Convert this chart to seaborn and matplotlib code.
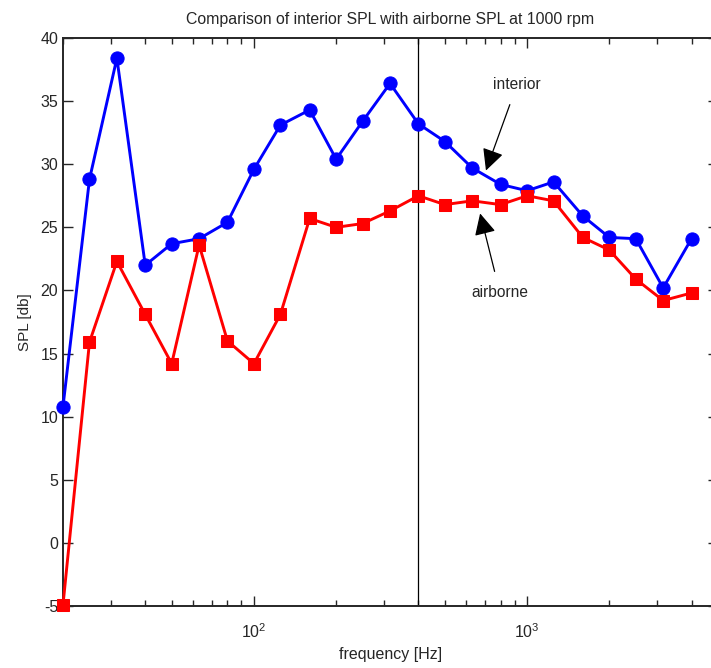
import matplotlib
matplotlib.use("Agg")
import matplotlib.pyplot as plt
import matplotlib.ticker as mticker
import seaborn as sns
import pandas as pd

freq = [20, 25, 31.5, 40, 50, 63, 80, 100, 125, 160, 200, 250, 315, 400,
        500, 630, 800, 1000, 1250, 1600, 2000, 2500, 3150, 4000]
interior = [10.8, 28.8, 38.4, 22.0, 23.7, 24.1, 25.4, 29.6, 33.1, 34.3, 30.4, 33.4, 36.4, 33.2,
            31.8, 29.7, 28.4, 27.9, 28.6, 25.9, 24.2, 24.1, 20.2, 24.1]
airborne = [-4.9, 15.9, 22.3, 18.1, 14.2, 23.6, 16.0, 14.2, 18.1, 25.7, 25.0, 25.3, 26.3, 27.5,
            26.8, 27.1, 26.8, 27.5, 27.1, 24.2, 23.2, 20.9, 19.2, 19.8]
vline_freq = 400

sns.set_style("ticks")
plt.rcParams['font.family'] = ['Liberation Sans', 'DejaVu Sans']
plt.rcParams['axes.unicode_minus'] = False

df_i = pd.DataFrame({"freq": freq, "spl": interior})
df_a = pd.DataFrame({"freq": freq, "spl": airborne})

fig = plt.figure(figsize=(7.11, 6.68), dpi=100)
ax = fig.add_axes([63 / 711, 62 / 668, 655 / 711, 568 / 668])

sns.lineplot(data=df_i, x="freq", y="spl", ax=ax, color="#0000ff", marker="o",
             markersize=9.5, markeredgecolor="#0000ff", linewidth=2.1, clip_on=False, zorder=3)
sns.lineplot(data=df_a, x="freq", y="spl", ax=ax, color="#ff0000", marker="s",
             markersize=9, markeredgecolor="#ff0000", linewidth=2.1, clip_on=False, zorder=4)

ax.axvline(vline_freq, color="black", linewidth=0.9)

ax.set_xscale("log")
ax.set_xlim(20, 5000)
ax.set_ylim(-5, 40)
ax.set_yticks(range(-5, 41, 5))
ax.xaxis.set_major_locator(mticker.FixedLocator([100, 1000]))
ax.xaxis.set_minor_locator(mticker.LogLocator(base=10, subs=range(2, 10), numticks=20))
ax.xaxis.set_minor_formatter(mticker.NullFormatter())

ax.tick_params(which="both", direction="in", top=True, right=True, labelsize=11.5, width=1)
ax.tick_params(which="major", length=7)
ax.tick_params(which="minor", length=4)
ax.tick_params(axis="x", which="major", pad=12)
for s in ax.spines.values():
    s.set_linewidth(1.4)
    s.set_visible(True)

ax.set_title("Comparison of interior SPL with airborne SPL at 1000 rpm", fontsize=11.4, pad=10)
ax.set_xlabel("frequency [Hz]", fontsize=11.5, labelpad=4)
ax.set_ylabel("SPL [db]", fontsize=11, labelpad=6)

ax.annotate("interior", xy=(707, 29.5), xytext=(919, 36.3), ha="center", va="center", fontsize=11.2,
            arrowprops=dict(arrowstyle="-|>,head_length=0.6,head_width=0.3", color="black",
                            lw=0.9, mutation_scale=22, shrinkA=7, shrinkB=0))
ax.annotate("airborne", xy=(673, 26.1), xytext=(796, 19.8), ha="center", va="center", fontsize=11.2,
            arrowprops=dict(arrowstyle="-|>,head_length=0.6,head_width=0.3", color="black",
                            lw=0.9, mutation_scale=22, shrinkA=8, shrinkB=0))

fig.savefig("out.png", dpi=100)
